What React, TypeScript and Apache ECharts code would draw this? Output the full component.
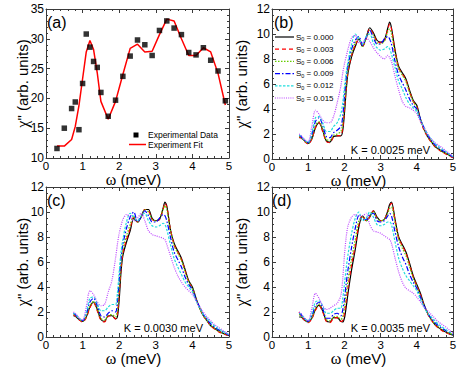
import React, { useEffect, useRef } from 'react';
import * as echarts from 'echarts';

// ---------- data ----------
// Panel (a): experimental points and fit
const A_OMEGA = [0.3, 0.5, 0.7, 0.8, 0.9, 1.0, 1.1, 1.2, 1.3, 1.4, 1.5, 1.7, 1.9, 2.1, 2.3, 2.5, 2.7, 2.9, 3.1, 3.3, 3.5, 3.7, 3.9, 4.1, 4.3, 4.5, 4.7, 4.9];
const A_EXP = [11.6, 15.0, 18.3, 19.4, 14.75, 22.5, 30.8, 28.6, 26.2, 25.2, 21.0, 17.0, 19.7, 23.7, 27.1, 29.8, 29.0, 27.2, 31.4, 33.0, 31.8, 30.7, 27.7, 27.3, 28.5, 26.4, 24.6, 19.6];
const A_FIT = [12.0, 12.0, 13.1, 15.3, 18.8, 23.3, 27.8, 29.7, 28.2, 24.3, 19.5, 16.5, 19.5, 24.0, 28.4, 29.1, 27.8, 27.9, 30.7, 33.3, 33.0, 30.0, 27.2, 27.2, 28.5, 27.8, 24.2, 18.9];

// Panels (b)-(d): common omega grid
const OMEGA = [0.75, 0.8, 0.9, 1.0, 1.1, 1.2, 1.3, 1.4, 1.5, 1.6, 1.7, 1.8, 1.9, 1.95, 2.0, 2.05, 2.1, 2.2, 2.3, 2.4, 2.5, 2.6, 2.7, 2.8, 2.9, 3.0, 3.1, 3.2, 3.25, 3.3, 3.4, 3.5, 3.6, 3.7, 3.8, 3.9, 4.0, 4.1, 4.2, 4.3, 4.4, 4.5, 4.6, 4.7, 4.8, 4.9, 5.0];

// K = 0.0025 meV
const B_S000 = [1.7, 1.7, 1.45, 1.25, 1.6, 2.5, 2.9, 2.3, 1.45, 1.35, 1.8, 1.85, 1.85, 2.2, 3.6, 5.5, 6.9, 8.2, 9.0, 9.6, 9.0, 9.7, 10.5, 10.1, 9.5, 9.35, 9.5, 10.5, 10.95, 10.5, 8.7, 7.4, 6.9, 6.4, 5.5, 4.7, 4.3, 3.2, 2.4, 1.8, 1.4, 1.0, 0.8, 0.6, 0.45, 0.3, 0.1];
const B_S003 = [1.75, 1.7, 1.4, 1.2, 1.6, 2.5, 2.9, 2.2, 1.4, 1.3, 1.75, 1.85, 1.9, 2.4, 3.9, 5.7, 7.0, 8.3, 9.1, 9.6, 9.0, 9.6, 10.4, 10.0, 9.4, 9.3, 9.4, 10.4, 10.8, 10.4, 8.6, 7.3, 6.8, 6.3, 5.4, 4.6, 4.2, 3.1, 2.3, 1.75, 1.35, 1.0, 0.75, 0.55, 0.4, 0.25, 0.1];
const B_S006 = [1.8, 1.75, 1.45, 1.25, 1.7, 2.7, 3.0, 2.4, 1.55, 1.5, 1.9, 2.0, 2.2, 2.8, 4.4, 6.0, 7.2, 8.5, 9.3, 9.7, 9.0, 9.7, 10.3, 9.9, 9.3, 9.2, 9.4, 10.2, 10.4, 10.0, 8.4, 7.2, 6.7, 6.2, 5.3, 4.6, 4.1, 3.1, 2.4, 1.8, 1.4, 1.05, 0.8, 0.6, 0.45, 0.3, 0.15];
const B_S009 = [1.9, 1.8, 1.5, 1.3, 1.9, 3.0, 3.3, 2.7, 1.8, 1.7, 2.1, 2.3, 2.6, 3.3, 5.0, 6.5, 7.5, 8.8, 9.5, 9.8, 9.1, 9.7, 10.3, 9.7, 9.2, 9.2, 9.6, 9.8, 9.6, 9.2, 7.8, 6.7, 6.1, 5.5, 4.8, 4.3, 4.0, 3.2, 2.5, 1.9, 1.5, 1.15, 0.9, 0.7, 0.55, 0.35, 0.15];
const B_S012 = [1.9, 1.85, 1.5, 1.35, 2.1, 3.3, 3.4, 2.9, 2.2, 2.2, 2.6, 2.9, 3.6, 4.4, 5.7, 6.9, 7.8, 9.2, 10.0, 9.6, 9.2, 9.8, 10.0, 9.3, 8.9, 8.7, 8.8, 9.0, 8.8, 8.4, 7.3, 6.2, 5.6, 4.9, 4.4, 4.1, 3.8, 3.1, 2.5, 2.0, 1.6, 1.25, 1.0, 0.8, 0.6, 0.4, 0.2];
const B_S015 = [2.0, 1.9, 1.55, 1.4, 2.6, 3.9, 3.6, 3.1, 2.9, 2.9, 3.4, 4.5, 5.8, 6.8, 7.6, 8.2, 8.8, 9.7, 9.9, 9.3, 9.3, 9.7, 9.4, 8.9, 8.5, 8.2, 8.0, 8.3, 8.1, 7.8, 6.6, 5.5, 4.6, 4.2, 4.1, 3.9, 3.6, 3.0, 2.5, 2.0, 1.6, 1.3, 1.1, 0.9, 0.65, 0.45, 0.2];

// K = 0.0030 meV
const C_S000 = [1.7, 1.65, 1.4, 1.25, 1.6, 2.4, 2.8, 2.2, 1.4, 1.25, 1.7, 1.7, 1.45, 1.6, 3.0, 5.2, 6.5, 7.6, 8.5, 9.5, 9.2, 9.6, 10.2, 10.2, 9.5, 9.3, 9.4, 10.3, 10.8, 10.5, 8.6, 7.5, 6.9, 6.3, 5.4, 4.5, 4.0, 3.1, 2.3, 1.7, 1.3, 0.9, 0.7, 0.5, 0.35, 0.2, 0.1];
const C_S003 = [1.75, 1.7, 1.4, 1.2, 1.55, 2.35, 2.75, 2.1, 1.35, 1.2, 1.65, 1.7, 1.45, 1.8, 3.4, 5.5, 6.7, 7.8, 8.7, 9.6, 9.2, 9.6, 10.2, 10.1, 9.4, 9.3, 9.4, 10.2, 10.7, 10.4, 8.6, 7.4, 6.8, 6.2, 5.3, 4.4, 3.9, 3.0, 2.3, 1.7, 1.3, 0.9, 0.65, 0.45, 0.3, 0.2, 0.1];
const C_S006 = [1.8, 1.75, 1.45, 1.25, 1.65, 2.5, 2.85, 2.3, 1.5, 1.35, 1.75, 1.8, 1.6, 2.2, 3.9, 5.8, 7.0, 8.1, 9.0, 9.7, 9.2, 9.6, 10.2, 10.0, 9.4, 9.3, 9.5, 10.2, 10.5, 10.2, 8.5, 7.3, 6.7, 6.1, 5.2, 4.4, 3.9, 3.0, 2.3, 1.7, 1.3, 0.95, 0.7, 0.5, 0.35, 0.25, 0.15];
const C_S009 = [1.9, 1.8, 1.5, 1.3, 1.8, 2.8, 3.1, 2.5, 1.7, 1.6, 1.9, 2.1, 2.0, 2.8, 4.6, 6.3, 7.4, 8.7, 9.6, 10.0, 9.2, 9.6, 10.1, 9.7, 9.2, 9.2, 9.5, 9.8, 9.7, 9.3, 8.0, 6.8, 6.2, 5.6, 4.8, 4.2, 3.8, 3.0, 2.4, 1.8, 1.4, 1.05, 0.8, 0.6, 0.45, 0.3, 0.15];
const C_S012 = [1.9, 1.85, 1.5, 1.35, 2.0, 3.1, 3.2, 2.7, 2.1, 2.1, 2.4, 2.6, 2.6, 3.5, 5.2, 6.8, 7.8, 9.2, 9.9, 9.6, 9.3, 9.7, 9.9, 9.3, 8.9, 8.8, 8.9, 9.1, 9.0, 8.6, 7.4, 6.3, 5.6, 5.0, 4.4, 4.0, 3.6, 2.9, 2.3, 1.8, 1.5, 1.2, 0.9, 0.7, 0.5, 0.35, 0.2];
const C_S015 = [2.0, 1.9, 1.55, 1.35, 2.4, 3.7, 3.4, 2.8, 2.5, 2.6, 3.6, 4.5, 6.3, 7.4, 8.3, 8.9, 9.4, 9.8, 9.6, 9.3, 9.5, 9.9, 9.3, 8.5, 8.2, 8.1, 8.0, 7.9, 7.8, 7.4, 6.5, 5.6, 4.9, 4.4, 4.0, 3.7, 3.4, 2.9, 2.4, 2.0, 1.6, 1.3, 1.0, 0.8, 0.6, 0.4, 0.2];

// K = 0.0035 meV
const D_S000 = [1.6, 1.6, 1.35, 1.2, 1.5, 2.2, 2.55, 2.1, 1.3, 1.2, 1.55, 1.55, 1.25, 1.2, 1.5, 2.4, 3.5, 5.4, 7.0, 8.8, 9.7, 9.3, 9.6, 10.1, 9.6, 9.3, 9.4, 10.1, 10.6, 10.8, 9.4, 8.0, 7.4, 6.8, 5.9, 4.9, 4.2, 3.5, 2.6, 1.9, 1.4, 1.0, 0.75, 0.55, 0.4, 0.25, 0.15];
const D_S003 = [2.0, 1.65, 1.35, 1.15, 1.45, 2.15, 2.5, 2.0, 1.25, 1.15, 1.5, 1.55, 1.25, 1.3, 1.9, 2.9, 4.0, 5.8, 7.3, 9.0, 9.7, 9.3, 9.6, 10.1, 9.5, 9.3, 9.4, 10.0, 10.5, 10.7, 9.3, 7.9, 7.3, 6.7, 5.8, 4.8, 4.1, 3.4, 2.5, 1.85, 1.35, 1.0, 0.7, 0.5, 0.35, 0.25, 0.15];
const D_S006 = [1.8, 1.7, 1.4, 1.2, 1.55, 2.3, 2.65, 2.2, 1.4, 1.3, 1.6, 1.65, 1.4, 1.6, 2.4, 3.5, 4.6, 6.3, 7.8, 9.3, 9.6, 9.3, 9.7, 10.0, 9.5, 9.3, 9.4, 9.9, 10.3, 10.4, 9.1, 7.8, 7.1, 6.5, 5.6, 4.7, 4.0, 3.3, 2.5, 1.9, 1.4, 1.05, 0.8, 0.6, 0.45, 0.3, 0.2];
const D_S009 = [1.9, 1.8, 1.45, 1.25, 1.7, 2.5, 2.8, 2.3, 1.5, 1.5, 1.8, 1.9, 1.7, 2.1, 3.0, 4.3, 5.4, 7.2, 8.7, 9.7, 9.4, 9.4, 9.8, 9.9, 9.3, 9.2, 9.3, 9.7, 9.9, 9.7, 8.4, 7.2, 6.4, 5.8, 5.0, 4.4, 3.9, 3.2, 2.5, 1.9, 1.5, 1.15, 0.9, 0.7, 0.5, 0.35, 0.2];
const D_S012 = [1.9, 1.85, 1.5, 1.3, 1.9, 2.8, 2.9, 2.5, 1.9, 1.9, 2.1, 2.3, 2.3, 3.0, 4.2, 5.5, 6.6, 8.3, 9.5, 10.0, 9.3, 9.5, 10.0, 9.6, 9.0, 8.9, 9.0, 9.2, 9.2, 9.0, 7.6, 6.3, 5.5, 4.9, 4.5, 4.1, 3.7, 3.0, 2.4, 1.9, 1.6, 1.3, 1.0, 0.8, 0.6, 0.4, 0.25];
const D_S015 = [2.0, 1.9, 1.5, 1.3, 2.3, 3.5, 3.1, 2.5, 2.2, 2.3, 2.5, 2.7, 3.3, 4.5, 6.5, 8.0, 8.9, 9.6, 9.8, 9.7, 9.7, 9.9, 9.0, 8.5, 8.4, 8.3, 8.1, 7.9, 7.8, 7.5, 6.3, 5.2, 4.4, 3.9, 3.7, 3.5, 3.2, 2.8, 2.4, 2.1, 1.8, 1.5, 1.2, 1.0, 0.8, 0.55, 0.3];

const S0_LABELS = ['0.000', '0.003', '0.006', '0.009', '0.012', '0.015'];
const K_LABELS = ['K = 0.0025 meV', 'K = 0.0030 meV', 'K = 0.0035 meV'];
const PANEL_LABELS = ['(a)', '(b)', '(c)', '(d)'];
const PANEL_SETS = [
  [B_S000, B_S003, B_S006, B_S009, B_S012, B_S015],
  [C_S000, C_S003, C_S006, C_S009, C_S012, C_S015],
  [D_S000, D_S003, D_S006, D_S009, D_S012, D_S015],
];

// ---------- styles ----------
const FONT = '"Liberation Sans", Arial, Helvetica, sans-serif';
const SERIF = '"Liberation Serif", "Times New Roman", serif';
const AXIS_COLOR = '#3a3a3a';
const LINE_STYLES = [
  { color: '#000000', type: 'solid' as any },
  { color: '#ff0000', type: [4, 3] },
  { color: '#66cc00', type: [1.5, 1.5] },
  { color: '#0000ff', type: [5, 2, 1.5, 2] },
  { color: '#22dddd', type: [2.5, 1.5] },
  { color: '#bb44ff', type: [1, 1.2] },
];
const GRIDS = [
  { left: 46, top: 9, width: 183, height: 149 },
  { left: 272, top: 9, width: 181, height: 150 },
  { left: 46, top: 187, width: 183, height: 150 },
  { left: 272, top: 187, width: 181, height: 150 },
];
const Y_NAME_GAP = [16, 23, 16, 23];

function buildOption() {
  const xAxis: any[] = [];
  const yAxis: any[] = [];
  GRIDS.forEach((g, gi) => {
    const tick = { show: true, inside: true, length: 4, lineStyle: { color: AXIS_COLOR, width: 1 } };
    const line = { show: true, onZero: false, lineStyle: { color: AXIS_COLOR, width: 1 } };
    const xc = {
      type: 'value', gridIndex: gi, min: 0, max: 5, interval: 1,
      splitLine: { show: false }, axisLine: line, axisTick: tick,
      minorTick: { show: true, splitNumber: 5, length: 2, lineStyle: { color: AXIS_COLOR } },
    };
    xAxis.push({
      ...xc, position: 'bottom',
      axisLabel: { fontSize: 11.5, lineHeight: 11, color: '#000', margin: 2, fontFamily: FONT },
      name: '{g|ω} (meV)', nameLocation: 'middle', nameGap: 14, nameMoveOverlap: false,
      nameTextStyle: {
        fontSize: 15, lineHeight: 14, color: '#000', fontFamily: FONT, verticalAlign: 'top',
        padding: [0, 8, 0, 0],
        rich: { g: { fontSize: 16, lineHeight: 14, fontFamily: SERIF, color: '#000' } },
      },
    });
    xAxis.push({ ...xc, position: 'top', axisLabel: { show: false } });
    const isA = gi === 0;
    const yc = {
      type: 'value', gridIndex: gi, min: isA ? 10 : 0, max: isA ? 35 : 12, interval: isA ? 5 : 2,
      splitLine: { show: false }, axisLine: line, axisTick: tick,
      minorTick: { show: true, splitNumber: isA ? 5 : 4, length: 2, lineStyle: { color: AXIS_COLOR } },
    };
    yAxis.push({
      ...yc, position: 'left',
      axisLabel: { fontSize: 12, color: '#000', margin: 2, fontFamily: FONT },
      name: '{g|χ}" (arb. units)', nameLocation: 'middle', nameGap: Y_NAME_GAP[gi], nameRotate: 90,
      nameMoveOverlap: false,
      nameTextStyle: {
        fontSize: 15, lineHeight: 15, color: '#000', fontFamily: FONT,
        rich: { g: { fontSize: 16, lineHeight: 15, fontFamily: SERIF, color: '#000' } },
      },
    });
    yAxis.push({ ...yc, position: 'right', axisLabel: { show: false } });
  });

  const series: any[] = [
    {
      type: 'line', name: 'Experiment Fit', xAxisIndex: 0, yAxisIndex: 0,
      data: A_OMEGA.map((x, i) => [x, A_FIT[i]]), showSymbol: false, symbol: 'none',
      lineStyle: { color: '#ff0000', width: 1.5 }, z: 2,
    },
    {
      type: 'scatter', name: 'Experimental Data', xAxisIndex: 0, yAxisIndex: 0,
      data: A_OMEGA.map((x, i) => [x, A_EXP[i]]), symbol: 'rect', symbolSize: 5.5,
      itemStyle: { color: '#000' }, z: 3,
    },
  ];
  PANEL_SETS.forEach((set, pi) => {
    const gi = pi + 1;
    set.forEach((ys, si) => {
      series.push({
        type: 'line', name: 'S0 = ' + S0_LABELS[si] + ' ' + K_LABELS[pi],
        xAxisIndex: gi * 2, yAxisIndex: gi * 2,
        data: OMEGA.map((x, i) => [x, ys[i]]),
        symbol: 'none', showSymbol: false, smooth: 0.3,
        lineStyle: { color: LINE_STYLES[si].color, type: LINE_STYLES[si].type, width: 1.2 },
        z: 2,
      });
    });
  });

  const graphic: any[] = [];
  const labelPos = [[47, 22], [274, 22], [47, 200], [272, 200]];
  PANEL_LABELS.forEach((t, i) => {
    graphic.push({
      type: 'text', x: labelPos[i][0], y: labelPos[i][1],
      style: { text: t, font: `16px ${FONT}`, fill: '#000', align: 'left', verticalAlign: 'middle' },
    });
  });
  const kPos = [[430, 150], [203, 328], [430, 328]];
  K_LABELS.forEach((t, i) => {
    graphic.push({
      type: 'text', x: kPos[i][0], y: kPos[i][1],
      style: { text: t, font: `11px ${FONT}`, fill: '#000', align: 'right', verticalAlign: 'middle' },
    });
  });
  // legend (a)
  graphic.push({ type: 'rect', shape: { x: 133.5, y: 132.5, width: 5, height: 5 }, style: { fill: '#000' } });
  graphic.push({ type: 'text', x: 148, y: 135, style: { text: 'Experimental Data', font: `8.5px ${FONT}`, fill: '#000', align: 'left', verticalAlign: 'middle' } });
  graphic.push({ type: 'line', shape: { x1: 129, y1: 144.5, x2: 146, y2: 144.5 }, style: { stroke: '#ff0000', lineWidth: 1.5 } });
  graphic.push({ type: 'text', x: 148, y: 144.5, style: { text: 'Experiment Fit', font: `8.5px ${FONT}`, fill: '#000', align: 'left', verticalAlign: 'middle' } });
  // legend (b)
  S0_LABELS.forEach((t, i) => {
    const y = 37 + i * 12.2;
    const ls = LINE_STYLES[i];
    graphic.push({
      type: 'line', shape: { x1: 275, y1: y, x2: 294, y2: y },
      style: { stroke: ls.color, lineWidth: 1.2, lineDash: Array.isArray(ls.type) ? ls.type : null },
    });
    graphic.push({
      type: 'text', x: 296, y: y,
      style: {
        text: `{a|S}{b|0}{a| = ${t}}`, align: 'left', verticalAlign: 'middle', fill: '#000',
        rich: {
          a: { fontSize: 8, fontFamily: FONT, fill: '#000', lineHeight: 10, verticalAlign: 'middle' },
          b: { fontSize: 5.5, fontFamily: FONT, fill: '#000', lineHeight: 10, verticalAlign: 'bottom', padding: [3, 0, 0, 0] },
        },
      },
    });
  });

  return {
    animation: false,
    backgroundColor: '#ffffff',
    grid: GRIDS.map((g) => ({ ...g, containLabel: false })),
    xAxis, yAxis, series, graphic,
  };
}

export default function App() {
  const ref = useRef<HTMLDivElement>(null);
  useEffect(() => {
    const chart = echarts.init(ref.current!, null, { renderer: 'svg' });
    chart.setOption(buildOption() as any);
    return () => chart.dispose();
  }, []);
  return <div ref={ref} style={{ position: 'fixed', left: 0, top: 0, width: 463, height: 370, background: '#fff' }} />;
}
